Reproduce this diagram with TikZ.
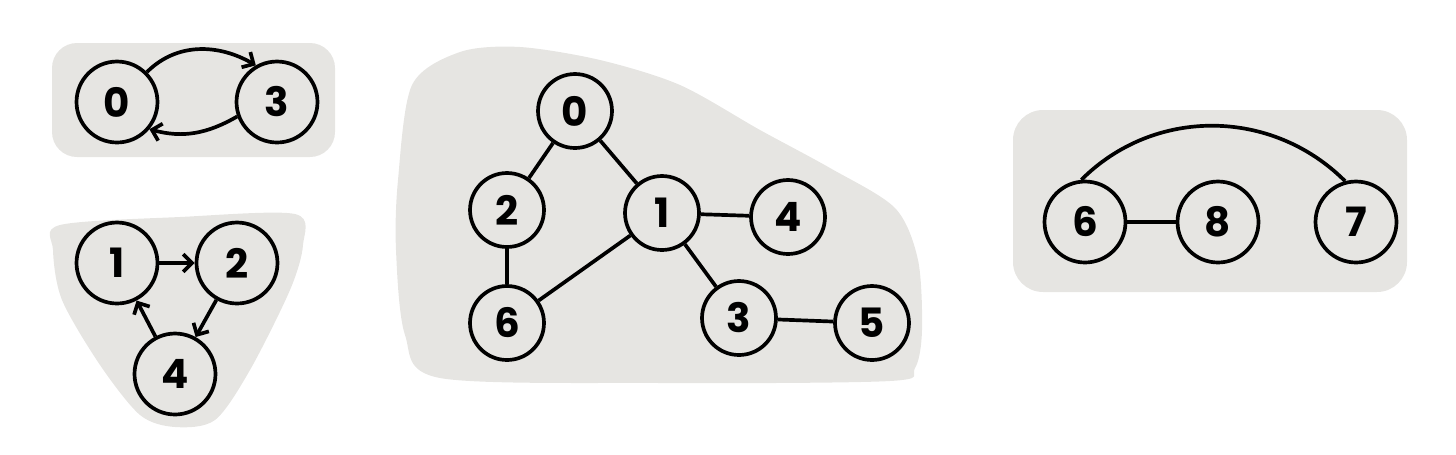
\documentclass[tikz,border=0pt]{standalone}
\usepackage{fontspec}
\setmainfont{Poppins}
\usepackage{tikz}
\usetikzlibrary{arrows.meta}
\definecolor{blobgray}{RGB}{230, 229, 226}

\begin{document}
\begin{tikzpicture}[x = 0.02cm, y = -0.02cm,
	vertex/.style = {draw, circle, line width = 2.1pt, minimum size = 1.62cm, inner sep = 0pt, font = \fontsize{23}{23}\selectfont\bfseries},
	midvertex/.style = {vertex, minimum size = 1.48cm},
	edge/.style = {line width = 2.1pt},
	arc/.style = {edge, -{Straight Barb[length = 5pt, width = 10pt]}}]
	\useasboundingbox (0, 0) rectangle (1456, 454);
	% backgrounds
	\fill[blobgray, rounded corners = 0.5cm] (52, 43) rectangle (335, 157);
	\fill[blobgray] plot[smooth cycle] coordinates {(60, 225) (180, 217) (295, 214) (303, 245) (290, 290) (250, 370) (215, 420) (175, 427) (140, 415) (100, 365) (62, 300) (53, 250)};
	\fill[blobgray] plot[smooth cycle] coordinates {(398, 180) (412, 85) (460, 52) (520, 47) (600, 60) (680, 85) (760, 130) (830, 168) (895, 208) (918, 260) (922, 330) (915, 368) (890, 381) (660, 383) (440, 378) (405, 335) (396, 250)};
	\fill[blobgray, rounded corners = 0.6cm] (1013, 110) rectangle (1407, 292);
	% top left
	\node[vertex] (a0) at (117, 102) {0};
	\node[vertex] (a3) at (277, 102) {3};
	\draw[arc] (a0.45) to[out = 45, in = 150] (a3.120);
	\draw[arc] (a3.200) to[out = 210, in = -15] (a0.-40);
	% bottom left
	\node[vertex] (b1) at (117, 263) {1};
	\node[vertex] (b2) at (237, 263) {2};
	\node[vertex] (b4) at (175, 374) {4};
	\draw[arc] (b1) -- (b2);
	\draw[arc] (b2) -- (b4);
	\draw[arc] (b4) -- (b1);
	% middle
	\node[midvertex] (c0) at (575, 111) {0};
	\node[midvertex] (c2) at (507, 210) {2};
	\node[midvertex] (c1) at (662, 213) {1};
	\node[midvertex] (c4) at (788, 217) {4};
	\node[midvertex] (c6) at (507, 323) {6};
	\node[midvertex] (c3) at (739, 318) {3};
	\node[midvertex] (c5) at (872, 323) {5};
	\draw[edge] (c0) -- (c2) (c0) -- (c1) (c2) -- (c6) (c1) -- (c6) (c1) -- (c4) (c1) -- (c3) (c3) -- (c5);
	% right
	\node[vertex] (d6) at (1085, 222) {6};
	\node[vertex] (d8) at (1218, 222) {8};
	\node[vertex] (d7) at (1356, 222) {7};
	\draw[edge] (d6) -- (d8);
	\draw[edge] (d6.95) to[out = 45, in = 135] (d7.105);
\end{tikzpicture}
\end{document}
